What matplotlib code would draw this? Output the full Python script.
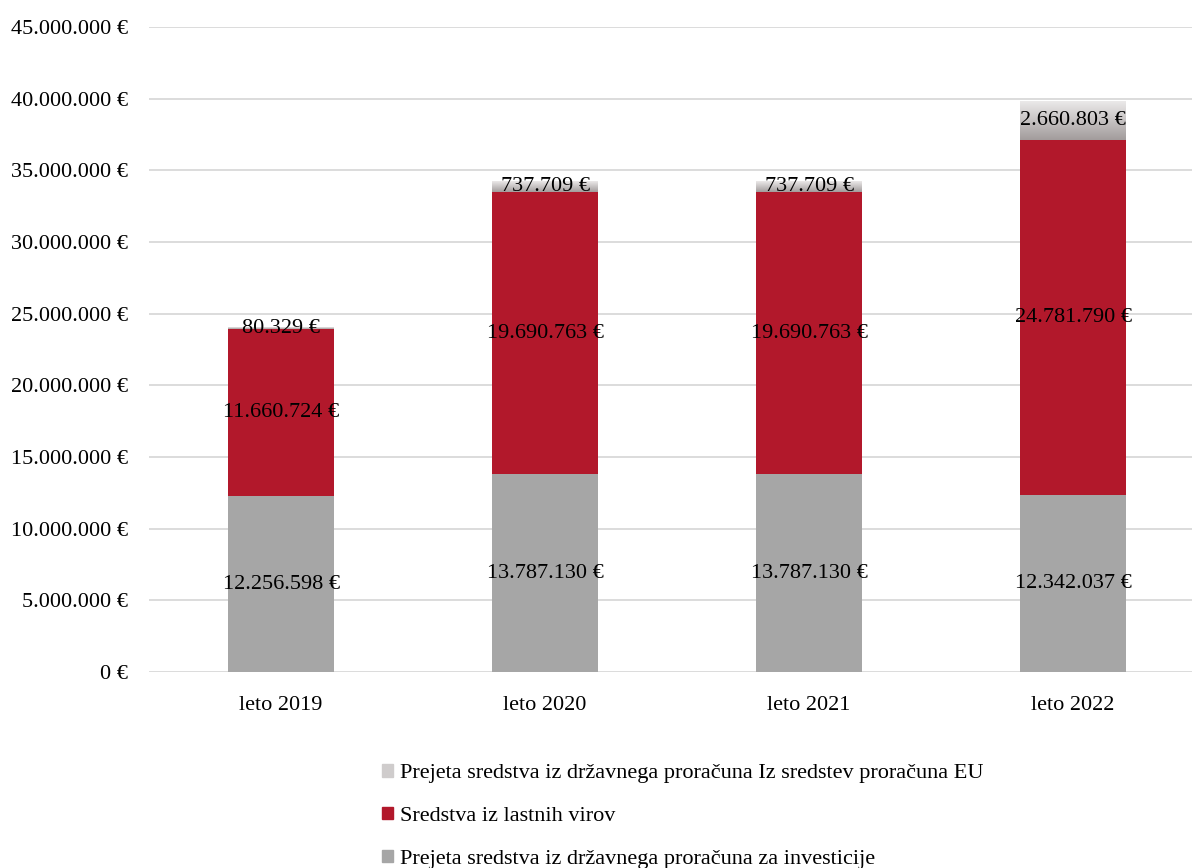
import numpy as np
import matplotlib
matplotlib.use('Agg')
from matplotlib import pyplot as plt
from matplotlib.patches import Patch
from matplotlib.colors import LinearSegmentedColormap

plt.rcParams['font.family'] = ['Liberation Serif', 'DejaVu Serif']

# data
leta = ['leto 2019', 'leto 2020', 'leto 2021', 'leto 2022']
investicije = [12256598, 13787130, 13787130, 12342037]
lastni_viri = [11660724, 19690763, 19690763, 24781790]
eu_sredstva = [80329, 737709, 737709, 2660803]

labels = ['Prejeta sredstva iz državnega proračuna Iz sredstev proračuna EU',
          'Sredstva iz lastnih virov',
          'Prejeta sredstva iz državnega proračuna za investicije']

c_grey = '#a6a6a6'
c_red = '#b2182b'
grad = LinearSegmentedColormap.from_list('g', ['#a29c9c', '#ebe9e9'])
fs = 16


def fmt(v):
    return f'{v:,.0f}'.replace(',', '.') + ' €'


fig = plt.figure(figsize=(11.92, 8.68), dpi=100)
ax = fig.add_axes([149/1192, 1-672/868, 1-149/1192, (672-27)/868])

x = np.arange(len(leta))
w = 0.4
ax.bar(x, investicije, w, color=c_grey, zorder=2)
ax.bar(x, lastni_viri, w, bottom=investicije, color=c_red, zorder=2)

# top segment with a vertical gradient
bottom2 = np.array(investicije) + np.array(lastni_viri)
g = np.linspace(0, 1, 100).reshape(-1, 1)
for i in range(len(leta)):
    ax.imshow(g, cmap=grad, aspect='auto', origin='lower', zorder=2,
              extent=[x[i]-w/2, x[i]+w/2, bottom2[i], bottom2[i]+eu_sredstva[i]])

for i in range(len(leta)):
    ax.text(x[i], investicije[i]/2, fmt(investicije[i]), ha='center', va='center', fontsize=fs, zorder=4)
    ax.text(x[i], investicije[i] + lastni_viri[i]/2, fmt(lastni_viri[i]), ha='center', va='center', fontsize=fs, zorder=4)
    ax.text(x[i], bottom2[i] + eu_sredstva[i]/2, fmt(eu_sredstva[i]), ha='center', va='center', fontsize=fs, zorder=4)

ax.set_xlim(-0.5, 3.45)
ax.set_ylim(0, 45000000)
yt = np.arange(0, 45000001, 5000000)
ax.set_yticks(yt)
ax.set_yticklabels([fmt(v) for v in yt], fontsize=fs)
ax.set_xticks(x)
ax.set_xticklabels(leta, fontsize=fs)
ax.tick_params(length=0)
ax.tick_params(axis='x', pad=17)
ax.tick_params(axis='y', pad=15)
ax.grid(axis='y', color='#d9d9d9', linewidth=1.3, zorder=0)
for s in ax.spines.values():
    s.set_visible(False)

handles = [Patch(color='#cfcccc'), Patch(color=c_red), Patch(color=c_grey)]
fig.legend(handles, labels, loc='upper left', bbox_to_anchor=(362/1192, 1-744/868),
           frameon=False, fontsize=fs, handlelength=0.5, handleheight=0.5,
           handletextpad=0.3, labelspacing=1.06)

fig.savefig('out.png', dpi=100)
